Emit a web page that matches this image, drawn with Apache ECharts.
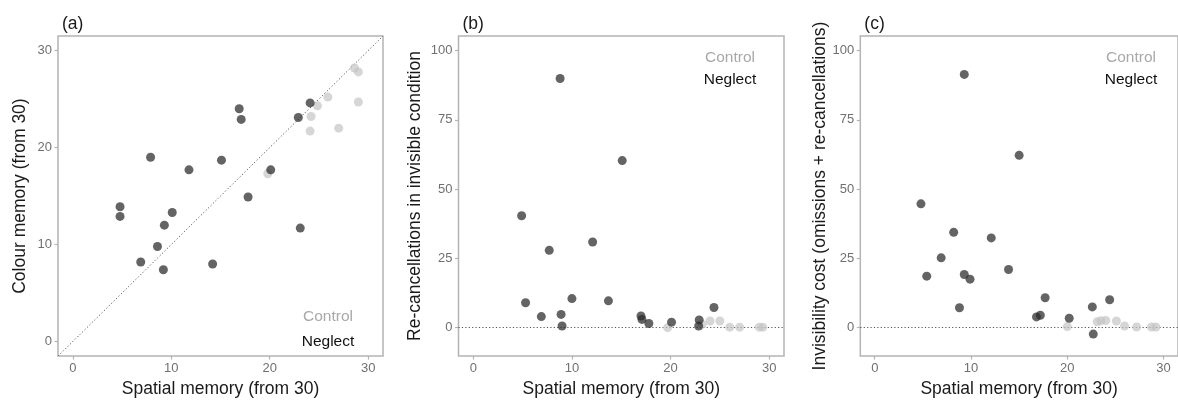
<!DOCTYPE html>
<html>
<head>
<meta charset="utf-8">
<script src="https://cdn.jsdelivr.net/npm/echarts@6/dist/echarts.min.js"></script>
<style>
html,body{margin:0;padding:0;background:#fff;}
#chart{width:1178px;height:403px;}
</style>
</head>
<body>
<div id="chart"></div>
<script>
// ---- Data ----
// Panel (a): colour memory vs spatial memory
const neglectSpatialA = [4.8, 4.8, 7.9, 6.9, 8.6, 9.3, 9.2, 10.1, 11.8, 14.2, 15.1, 16.9, 17.1, 17.8, 20.1, 22.9, 23.1, 24.1];
const neglectColourA  = [13.9, 12.9, 19.0, 8.2, 9.8, 12.0, 7.4, 13.3, 17.7, 8.0, 18.7, 24.0, 22.9, 14.9, 17.7, 23.1, 11.7, 24.6];
const controlSpatialA = [19.8, 24.1, 24.2, 24.85, 25.9, 27.0, 28.6, 29.0, 29.0];
const controlColourA  = [17.3, 21.7, 23.2, 24.3, 25.2, 22.0, 28.2, 27.8, 24.7];

// Panel (b): re-cancellations in invisible condition
const neglectSpatialB = [4.9, 5.3, 6.9, 7.7, 8.8, 8.9, 9.0, 10.0, 12.1, 13.7, 15.1, 17.0, 17.1, 17.8, 20.1, 22.85, 22.9, 24.4];
const neglectRecancB  = [40.4, 9.0, 4.0, 27.9, 89.9, 4.8, 0.6, 10.5, 30.9, 9.7, 60.3, 4.2, 3.0, 1.5, 2.0, 0.6, 2.8, 7.3];
const controlSpatialB = [19.7, 23.2, 24.0, 25.0, 26.0, 27.0, 29.0, 29.35];
const controlRecancB  = [0, 1.2, 2.4, 2.4, 0.2, 0.2, 0.2, 0.2];

// Panel (c): invisibility cost
const neglectSpatialC = [4.8, 5.4, 6.9, 8.2, 8.8, 9.3, 9.3, 9.9, 12.1, 13.9, 15.0, 16.8, 17.2, 17.7, 20.2, 22.6, 22.7, 24.4];
const neglectCostC    = [44.7, 18.6, 25.2, 34.4, 7.2, 91.4, 19.2, 17.5, 32.4, 21.0, 62.2, 3.9, 4.5, 10.8, 3.4, 7.5, -2.3, 10.1];
const controlSpatialC = [20.0, 23.1, 23.5, 24.0, 25.1, 25.95, 27.2, 28.75, 29.2];
const controlCostC    = [0.4, 2.1, 2.5, 2.6, 2.4, 0.6, 0.25, 0.25, 0.25];

// Axis ticks and limits
const xTicks = [0, 10, 20, 30];
const yTicksA = [0, 10, 20, 30];
const yTicksBC = [0, 25, 50, 75, 100];
const xLimits = [-1.5, 31.5];
const yLimitsA = [-1.5, 31.5];
const yLimitsBC = [-10.25, 105.25];

const panelTitles = ['(a)', '(b)', '(c)'];
const xTitle = 'Spatial memory (from 30)';
const yTitles = ['Colour memory (from 30)', 'Re-cancellations in invisible condition', 'Invisibility cost (omissions + re-cancellations)'];
const groupNames = ['Control', 'Neglect'];

// ---- Chart ----
const zip = (xs, ys) => xs.map((x, i) => [x, ys[i]]);
const FONT = 'Liberation Sans, Arial, sans-serif';
const borderGray = '#b4b4b4';
const tickGray = '#707070';
const neglectColor = 'rgba(40,40,40,0.9)';
const controlColor = 'rgba(195,195,195,0.85)';

const grids = [
  {left: 58, top: 36, width: 325, height: 324},
  {left: 458.5, top: 36, width: 325.5, height: 325},
  {left: 860.3, top: 36, width: 325.5, height: 325}
];
const yGaps = [29, 34, 31];

function xAxisFor(i) {
  return {
    type: 'value', gridIndex: i, min: xLimits[0], max: xLimits[1],
    name: xTitle, nameLocation: 'middle', nameGap: 21,
    nameTextStyle: {fontFamily: FONT, fontSize: 17.5, color: '#1a1a1a'},
    splitLine: {show: false},
    axisLine: {show: false, onZero: false},
    axisTick: {show: true, length: 3.5, customValues: xTicks, lineStyle: {color: borderGray, width: 1.2}},
    axisLabel: {customValues: xTicks, margin: 6, fontFamily: FONT, fontSize: 13, color: tickGray}
  };
}
function yAxisFor(i, lim, ticks) {
  return {
    type: 'value', gridIndex: i, min: lim[0], max: lim[1],
    name: yTitles[i], nameLocation: 'middle', nameGap: yGaps[i], nameRotate: 90,
    nameTextStyle: {fontFamily: FONT, fontSize: 17.5, color: '#1a1a1a'},
    splitLine: {show: false},
    axisLine: {show: false, onZero: false},
    axisTick: {show: true, length: 3.5, customValues: ticks, lineStyle: {color: borderGray, width: 1.2}},
    axisLabel: {customValues: ticks, margin: 6, fontFamily: FONT, fontSize: 13, color: tickGray}
  };
}

const dotted = {color: '#555', width: 1, type: [1.2, 2.2]};

function scatter(i, data, color, z, markLine) {
  const s = {
    type: 'scatter', xAxisIndex: i, yAxisIndex: i, data: data,
    symbolSize: 9, itemStyle: {color: color}, z: z, silent: true
  };
  if (markLine) s.markLine = markLine;
  return s;
}

const series = [
  scatter(0, zip(controlSpatialA, controlColourA), controlColor, 2, {
    silent: true, symbol: 'none', label: {show: false}, lineStyle: dotted, z: 1,
    data: [[{coord: [xLimits[0], yLimitsA[0]]}, {coord: [xLimits[1], yLimitsA[1]]}]]
  }),
  scatter(0, zip(neglectSpatialA, neglectColourA), neglectColor, 3),
  scatter(1, zip(controlSpatialB, controlRecancB), controlColor, 2, {
    silent: true, symbol: 'none', label: {show: false}, lineStyle: dotted, z: 1,
    data: [{yAxis: 0}]
  }),
  scatter(1, zip(neglectSpatialB, neglectRecancB), neglectColor, 3),
  scatter(2, zip(controlSpatialC, controlCostC), controlColor, 2, {
    silent: true, symbol: 'none', label: {show: false}, lineStyle: dotted, z: 1,
    data: [{yAxis: 0}]
  }),
  scatter(2, zip(neglectSpatialC, neglectCostC), neglectColor, 3)
];

const legendPos = [
  {x: 328, y1: 317, y2: 342},
  {x: 730, y1: 58, y2: 80},
  {x: 1131, y1: 58, y2: 80}
];
const graphics = [];
legendPos.forEach(p => {
  graphics.push({type: 'text', x: p.x, y: p.y1, z: 10, style: {text: groupNames[0], fill: '#a8a8a8', font: '15.5px ' + FONT, textAlign: 'center', textVerticalAlign: 'middle'}});
  graphics.push({type: 'text', x: p.x, y: p.y2, z: 10, style: {text: groupNames[1], fill: '#111', font: '15.5px ' + FONT, textAlign: 'center', textVerticalAlign: 'middle'}});
});

const chart = echarts.init(document.getElementById('chart'), null, {renderer: 'canvas'});
chart.setOption({
  backgroundColor: '#fff',
  animation: false,
  title: panelTitles.map((t, i) => ({
    text: t, left: grids[i].left - 1, top: 10,
    textStyle: {fontFamily: FONT, fontSize: 17.5, fontWeight: 'normal', color: '#1a1a1a'}
  })),
  grid: grids.map(g => Object.assign({show: true, borderColor: borderGray, borderWidth: 1.5, backgroundColor: '#fff', containLabel: false}, g)),
  xAxis: [xAxisFor(0), xAxisFor(1), xAxisFor(2)],
  yAxis: [yAxisFor(0, yLimitsA, yTicksA), yAxisFor(1, yLimitsBC, yTicksBC), yAxisFor(2, yLimitsBC, yTicksBC)],
  series: series,
  graphic: graphics
});
</script>
</body>
</html>
